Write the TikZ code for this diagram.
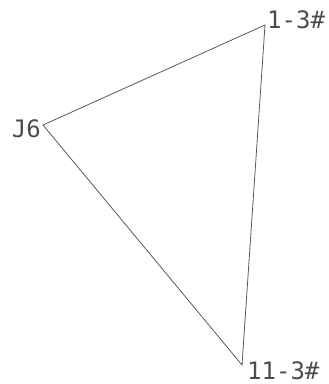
\documentclass[tikz,border=0pt]{standalone}
\usepackage{fontspec}
\newfontfamily\labfont{DejaVu Sans Mono}
\begin{document}
\begin{tikzpicture}[x=1pt,y=-1pt,
  lab/.style={font=\labfont\fontsize{24}{24}\selectfont,text=black!70,inner sep=0pt},
  edge/.style={draw=black!65,line width=0.8pt}]
\useasboundingbox (0,0) rectangle (329,384);
\coordinate (A) at (265,25);
\coordinate (B) at (43,125);
\coordinate (C) at (242,365);
\draw[edge] (A) -- (B) -- (C) -- cycle;
\node[lab,anchor=base west] (la) at (267,28) {1-3\#};
\node[lab,anchor=base east] (lb) at (41,137) {J6};
\node[lab,anchor=base west] (lc) at (247,379) {11-3\#};
\end{tikzpicture}
\end{document}
